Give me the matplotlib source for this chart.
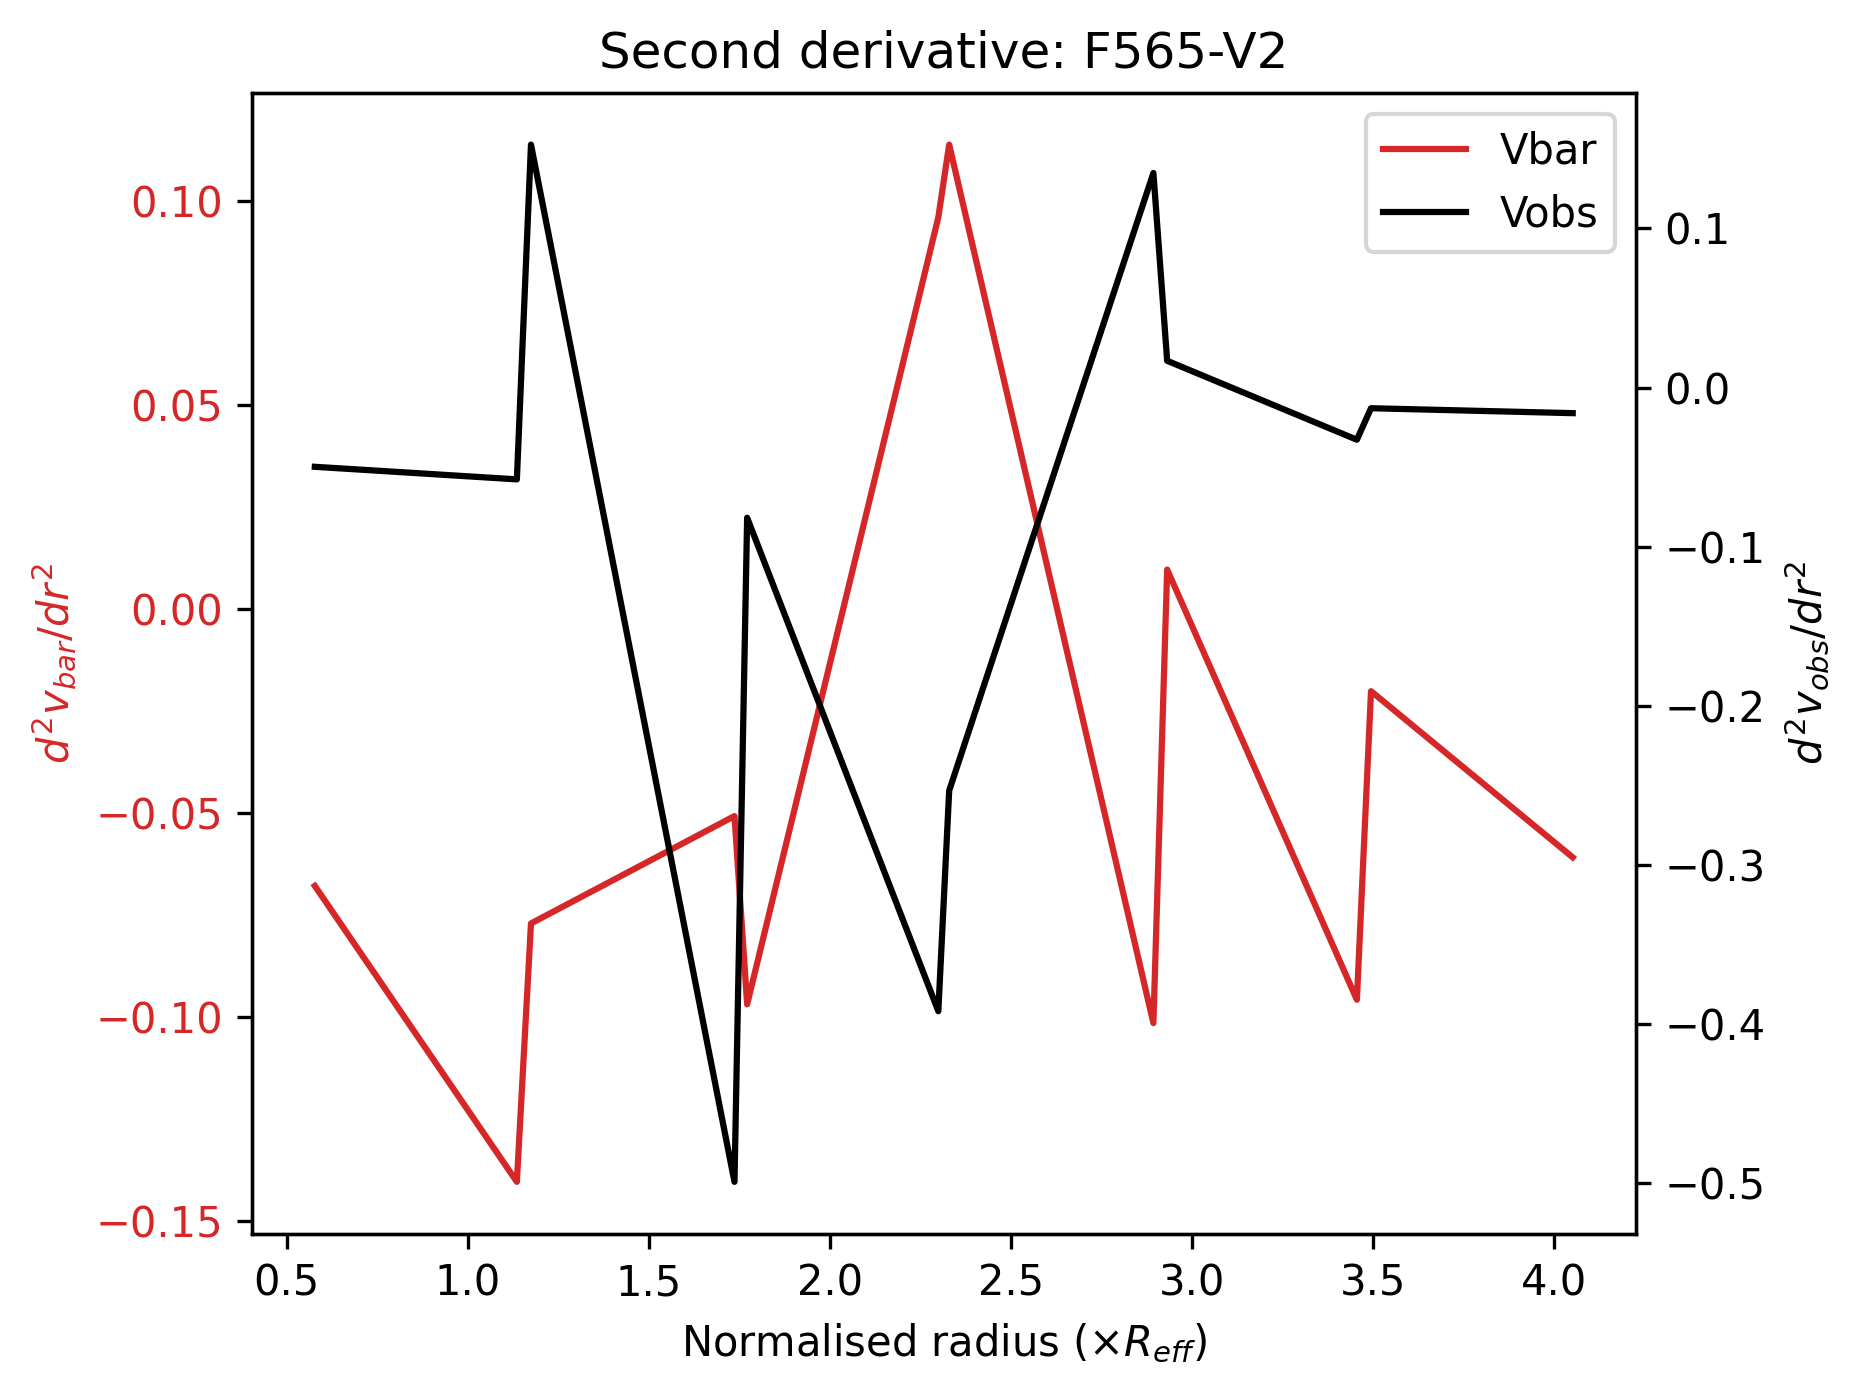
import matplotlib
matplotlib.use("Agg")
import matplotlib.pyplot as plt

radius = [0.578, 1.136, 1.175, 1.737, 1.772, 2.300, 2.330, 2.894, 2.932, 3.456, 3.495, 4.052]
d2_vbar = [-0.0678, -0.1403, -0.0770, -0.0507, -0.0968, 0.0960, 0.1138, -0.1014, 0.0097, -0.0957, -0.0201, -0.0608]
d2_vobs = [-0.0498, -0.0577, 0.1526, -0.4990, -0.0818, -0.3918, -0.2532, 0.1348, 0.0168, -0.0328, -0.0130, -0.0161]

fig = plt.figure(figsize=(1862 / 300, 1397 / 300), dpi=300)
ax1 = fig.add_axes([0.1353, 0.1169, 0.8784 - 0.1353, 0.9336 - 0.1169])
ax2 = ax1.twinx()

red = "tab:red"
l1, = ax1.plot(radius, d2_vbar, color=red, label="Vbar")
l2, = ax2.plot(radius, d2_vobs, color="k", label="Vobs")

ax1.set_xlabel(r"Normalised radius (×$R_{eff}$)")
ax1.set_ylabel(r"$d^2v_{bar}/dr^2$", color=red)
ax1.tick_params(axis="y", labelcolor=red)
ax2.set_ylabel(r"$d^2v_{obs}/dr^2$", color="k")
ax1.set_title("Second derivative: F565-V2")
ax2.legend([l1, l2], ["Vbar", "Vobs"], loc="upper right")

fig.savefig("out.png", dpi=300)
